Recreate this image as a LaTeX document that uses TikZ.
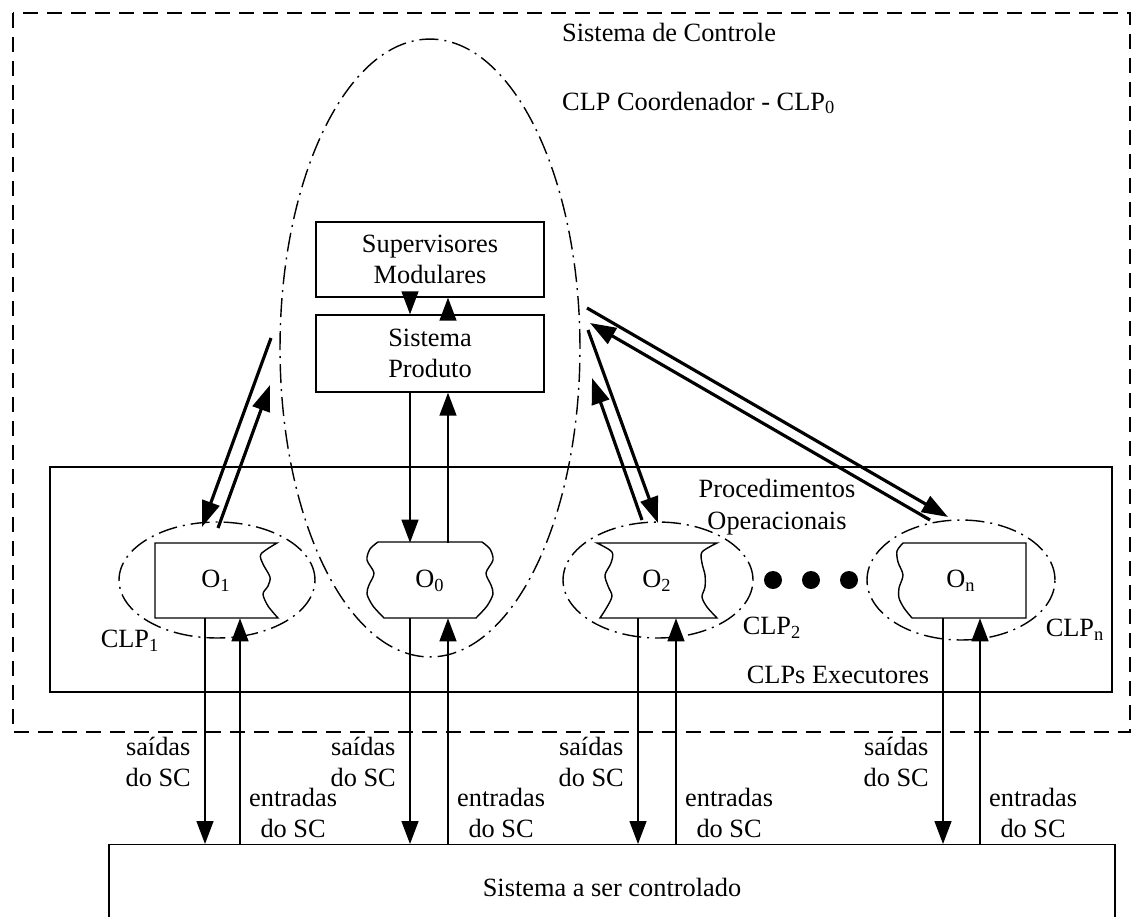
\documentclass[tikz,border=0pt]{standalone}
\usepackage{fontspec}
\setmainfont{Liberation Serif}
\usetikzlibrary{arrows.meta,shapes.geometric}

\begin{document}
\begin{tikzpicture}[x=0.02cm,y=-0.02cm,
  font=\fontsize{15}{18}\selectfont,
  blk/.style={draw,line width=0.8pt,inner sep=0pt,align=center,minimum width=4.56cm},
  obox/.style={inner sep=0pt,minimum height=1.5cm},
  clpring/.style={draw,ellipse,line width=0.8pt,inner sep=0pt,outer sep=0pt,
    dash pattern=on 0.38cm off 0.12cm on 0.04cm off 0.12cm},
  ar/.style={-{Triangle[length=4.6mm,width=3.4mm]},line width=0.8pt},
  dar/.style={-{Triangle[length=5.2mm,width=3.6mm]},line width=1.8pt},
  bigdot/.style={circle,fill,inner sep=0pt,minimum size=0.36cm}]

  \useasboundingbox (0,0) rectangle (1137,917);

  % sistema de controle
  \draw[line width=0.8pt,dash pattern=on 0.3cm off 0.18cm] (13,13) rectangle (1130,732);
  \node[anchor=west] (sclbl) at (556,32) {Sistema de Controle};

  % CLPs executores
  \draw[line width=0.8pt] (50,467) rectangle (1112,692);
  \node (execlbl) at (838,675) {CLPs Executores};
  \node[align=center] (proclbl) at (777,507) {Procedimentos\\Operacionais};

  % coordenador
  \node[clpring,minimum width=6cm,minimum height=12.36cm] (clp0) at (430,348) {};
  \node[anchor=west] (coordlbl) at (556,103) {CLP Coordenador - CLP\textsubscript{0}};
  \node[blk,minimum height=1.5cm] (sup) at (430,259.5) {Supervisores\\Modulares};
  \node[blk,minimum height=1.54cm] (prod) at (430,353.5) {Sistema\\Produto};
  \draw[ar] (sup.south -| 410,0) -- (prod.north -| 410,0);
  \draw[ar] (prod.north -| 448,0) -- (sup.south -| 448,0);

  % executores
  \node[clpring,minimum width=3.92cm,minimum height=2.32cm] (clp1) at (217,580) {};
  \node[clpring,minimum width=3.8cm,minimum height=2.32cm] (clp2) at (658,580) {};
  \node[clpring,minimum width=3.76cm,minimum height=2.4cm] (clpn) at (961,580) {};
  \node (clp1lbl) at (130,641) {CLP\textsubscript{1}};
  \node (clp2lbl) at (772,628) {CLP\textsubscript{2}};
  \node (clpnlbl) at (1075,630) {CLP\textsubscript{n}};

  \node[obox,minimum width=2.44cm] (o1) at (216,580.5) {O\textsubscript{1}};
  \node[obox,minimum width=2.52cm] (o0) at (430,580.5) {O\textsubscript{0}};
  \node[obox,minimum width=2.4cm] (o2) at (657,580.5) {O\textsubscript{2}};
  \node[obox,minimum width=2.58cm] (on) at (961,580.5) {O\textsubscript{n}};

  \draw[line width=0.8pt] (155,618) -- (155,543) -- plot[smooth] coordinates {(277,543) (261,554) (263,564) (270,577) (268,586) (263,594) (268,606) (278,618)} -- cycle;
  \draw[line width=0.8pt] plot[smooth] coordinates {(378,542) (370,549) (367,560) (374,573) (369,585) (367,594) (373,606) (384,618)}
    -- plot[smooth] coordinates {(476,618) (487,606) (493,594) (491,585) (486,573) (493,560) (490,549) (482,542)} -- cycle;
  \draw[line width=0.8pt] plot[smooth] coordinates {(597,543) (612,552) (611,563) (605,575) (608,586) (612,596) (607,607) (600,618)}
    -- plot[smooth] coordinates {(717,618) (707,607) (702,597) (705,587) (705,575) (702,563) (702,552) (717,543)} -- cycle;
  \draw[line width=0.8pt] plot[smooth] coordinates {(903,543) (897,551) (898,562) (903,575) (899,588) (899,598) (904,608) (912,618)}
    -- (1026,618) -- (1026,543) -- cycle;

  \foreach \x in {773,811,849}
    \node[bigdot] (dot\x) at (\x,580) {};

  \draw[ar] (prod.south -| 410,0) -- (o0.north -| 410,0);
  \draw[ar] (o0.north -| 448,0) -- (prod.south -| 448,0);

  % ligacoes coordenador - executores
  \coordinate (a1s) at (271,338); \coordinate (a1e) at (202,527);
  \coordinate (b1s) at (218,528); \coordinate (b1e) at (270,385);
  \coordinate (a2s) at (588,330); \coordinate (a2e) at (658,523);
  \coordinate (b2s) at (642,520); \coordinate (b2e) at (592,378);
  \coordinate (ans) at (587,308); \coordinate (ane) at (948,517);
  \coordinate (bns) at (930,520); \coordinate (bne) at (590,323);
  \draw[dar] (a1s) -- (a1e);
  \draw[dar] (b1s) -- (b1e);
  \draw[dar] (a2s) -- (a2e);
  \draw[dar] (b2s) -- (b2e);
  \draw[dar] (ans) -- (ane);
  \draw[dar] (bns) -- (bne);

  % planta
  \node[draw,line width=0.8pt,minimum width=20.12cm,minimum height=1.7cm,anchor=north] (plant) at (612,844) {Sistema a ser controlado};

  \foreach \o/\d/\u in {o1/205/240,o0/410/448,o2/638/676,on/943/980} {
    \draw[ar] (\o.south -| \d,0) -- (plant.north -| \d,0);
    \draw[ar] (plant.north -| \u,0) -- (\o.south -| \u,0);
    \node[anchor=east,align=center] (s\o) at (\d-8,762) {saídas\\do SC};
    \node[anchor=west,align=center] (e\o) at (\u+3,813) {entradas\\do SC};
  }
\end{tikzpicture}
\end{document}
